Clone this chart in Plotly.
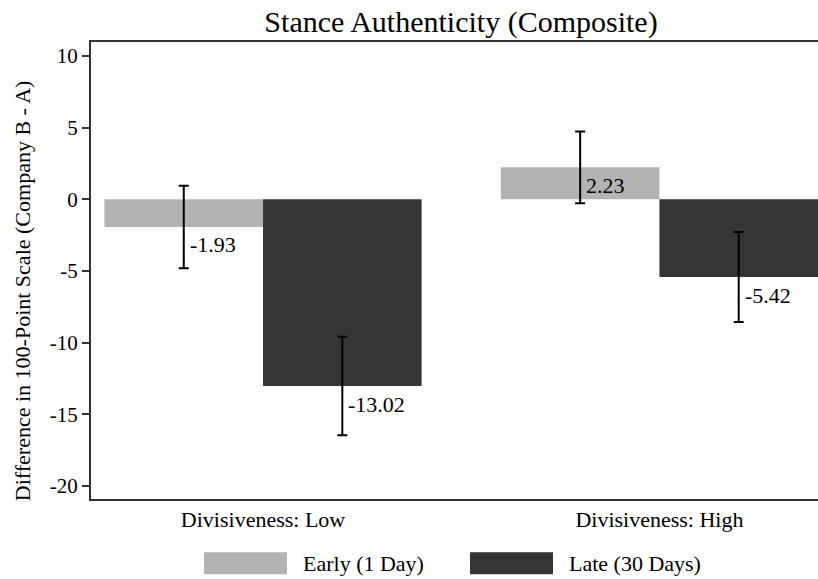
import plotly.graph_objects as go

categories = ["Divisiveness: Low", "Divisiveness: High"]
series_names = ["Early (1 Day)", "Late (30 Days)"]
early_values = [-1.93, 2.23]
late_values = [-13.02, -5.42]
early_errors = [2.88, 2.50]
late_errors = [3.43, 3.14]
y_ticks = [10, 5, 0, -5, -10, -15, -20]

SERIF = "Liberation Serif, Times New Roman, serif"
LIGHT = "#b3b3b3"
DARK = "#353535"

W, H = 818, 579

fig = go.Figure()
for name, vals, errs, col in [
    (series_names[0], early_values, early_errors, LIGHT),
    (series_names[1], late_values, late_errors, DARK),
]:
    fig.add_trace(go.Bar(
        x=categories, y=vals, name=name, marker=dict(color=col, line=dict(width=0)),
        error_y=dict(type="data", array=errs, visible=True, color="black", thickness=2, width=5),
        showlegend=False,
    ))

# value labels, placed right of the error bar, slightly below the bar end
offsets = [-0.2, 0.2]
for s, vals in enumerate([early_values, late_values]):
    for i, v in enumerate(vals):
        fig.add_annotation(
            x=i + offsets[s], y=v, xref="x", yref="y", text=f"{v:.2f}",
            showarrow=False, xanchor="left", yanchor="middle", xshift=4, yshift=-18,
            font=dict(family=SERIF, size=22, color="black"),
        )

# custom legend (wide swatches); coordinates in window pixels -> paper
def px2x(px):
    return (px - 91) / 727

def py2y(py):
    return (498.7 - py) / 456.7

for (x0, x1, tx), col, name in zip([(204, 287, 301), (470, 553, 567)], [LIGHT, DARK], series_names):
    fig.add_shape(type="rect", xref="paper", yref="paper",
                  x0=px2x(x0), x1=px2x(x1), y0=py2y(574), y1=py2y(552),
                  fillcolor=col, line=dict(width=0))
    fig.add_annotation(x=px2x(tx), y=py2y(563), xref="paper", yref="paper", text=name,
                       showarrow=False, xanchor="left", yanchor="middle",
                       font=dict(family=SERIF, size=22, color="black"))

# y-axis title
fig.add_annotation(x=0, y=py2y(291), xref="paper", yref="paper", xshift=-69,
                   text="Difference in 100-Point Scale (Company B - A)", textangle=-90,
                   showarrow=False, xanchor="center", yanchor="middle",
                   font=dict(family=SERIF, size=22, color="black"))

fig.update_layout(
    width=W, height=H,
    margin=dict(l=91, r=0, t=42, b=H - 498.7),
    paper_bgcolor="white", plot_bgcolor="white",
    barmode="group", bargap=0.2, bargroupgap=0,
    title=dict(text="Stance Authenticity (Composite)", x=px2x(461), xref="paper",
               xanchor="center", y=1 - 21 / H, yref="container", yanchor="middle",
               font=dict(family=SERIF, size=30, color="black")),
    xaxis=dict(range=[-0.434, 1.4], showline=True, linecolor="#333333", linewidth=2,
               mirror=True, ticks="", showgrid=False, zeroline=False,
               tickfont=dict(family=SERIF, size=22, color="black")),
    yaxis=dict(range=[-20.9, 10.97], tickvals=y_ticks, ticktext=[str(t) for t in y_ticks],
               showline=True, linecolor="#333333", linewidth=2, ticks="outside",
               ticklen=7, tickwidth=1.5, tickcolor="#333333", showgrid=False, zeroline=False,
               tickfont=dict(family=SERIF, size=21, color="black")),
)

fig.write_html("out.html", config={"displayModeBar": False},
               post_script="document.body.style.margin='0px';")
